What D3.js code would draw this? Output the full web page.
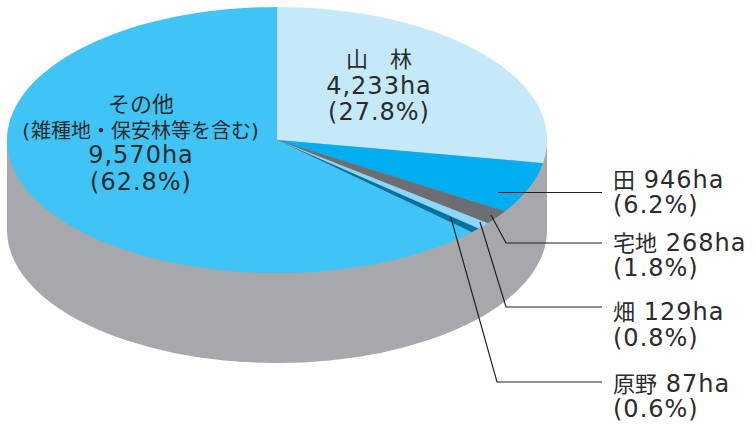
<!DOCTYPE html>
<html><head><meta charset="utf-8">
<script src="https://cdn.jsdelivr.net/npm/d3@7/dist/d3.min.js"></script>
<style>html,body{margin:0;padding:0;background:#fff}svg{display:block}
text{font-family:"DejaVu Sans","Noto Sans CJK JP",sans-serif;font-size:24px;fill:#2b2b2d;font-weight:400}
tspan.lat{letter-spacing:1px}
tspan.cjk{font-family:"Noto Sans CJK JP",sans-serif;font-size:22px}
.long tspan.cjk{font-size:20px}.long{font-size:20px}</style>
</head><body><svg id="c" width="756" height="425"></svg>
<script>
const categories = ["山林","田","宅地","畑","原野","その他"];
const areas = [4233,946,268,129,87,9570];
const colors = ["#c6e9fa","#00aeef","#6d6e72","#8dd7f9","#0073a3","#40c4f5"];
const insideLabels = [
  {x:379, lines:[["山　林",67],["4,233ha",94],["(27.8%)",120]]},
  {x:141, lines:[["その他",112],["(雑種地・保安林等を含む)",138],["9,570ha",163],["(62.8%)",190]]}
];
const sideLabels = [
  [["田 946ha",188],["(6.2%)",213]],
  [["宅地 268ha",251],["(1.8%)",276]],
  [["畑 129ha",320],["(0.8%)",346]],
  [["原野 87ha",392],["(0.6%)",417]]
];
const leaders = [
  [[498,192.5],[602,192.5]],
  [[491,215],[506,243],[602,243]],
  [[480,222],[506,307],[602,307]],
  [[451,218],[497,382],[602,382]]
];
const cx=277, cy=140, rx=270, ry=133, depth=90;
const svg=d3.select("#c");
const pie=d3.pie().sort(null).value(d=>d)(areas);
const arc=d3.arc().innerRadius(0).outerRadius(1);

const wall=svg.append("g").attr("fill","#a7a8ac");
wall.append("ellipse").attr("cx",cx).attr("cy",cy+depth).attr("rx",rx).attr("ry",ry);
wall.append("rect").attr("x",cx-rx).attr("y",cy).attr("width",2*rx).attr("height",depth);

svg.append("g").attr("transform",`translate(${cx},${cy}) scale(${rx},${ry})`)
  .selectAll("path").data(pie).join("path")
  .attr("d",arc).attr("fill",(d,i)=>colors[i])
  .attr("stroke",(d,i)=>colors[i]).attr("stroke-width",0.15).attr("vector-effect","non-scaling-stroke");

const line=d3.line();
svg.append("g").selectAll("path").data(leaders).join("path")
  .attr("d",line).attr("fill","none").attr("stroke","#231f20").attr("stroke-width",1.2);

function fill(sel){
  sel.each(function(d){
    const t=d3.select(this);
    const parts=d[0].match(/[\u3000-\u30ff\u4e00-\u9fff]+|[^\u3000-\u30ff\u4e00-\u9fff]+/g);
    parts.forEach(p=>{
      t.append("tspan").attr("class",/[\u3000-\u30ff\u4e00-\u9fff]/.test(p)?"cjk":"lat").text(p);
    });
    if(d[0].length>12) t.classed("long",true);
  });
}
insideLabels.forEach(l=>{
  svg.append("g").selectAll("text").data(l.lines).join("text")
    .attr("x",l.x).attr("y",d=>d[1]).attr("text-anchor","middle").call(fill);
});
svg.append("g").selectAll("text").data(sideLabels.flat()).join("text")
  .attr("x",613).attr("y",d=>d[1]).call(fill);
</script></body></html>
